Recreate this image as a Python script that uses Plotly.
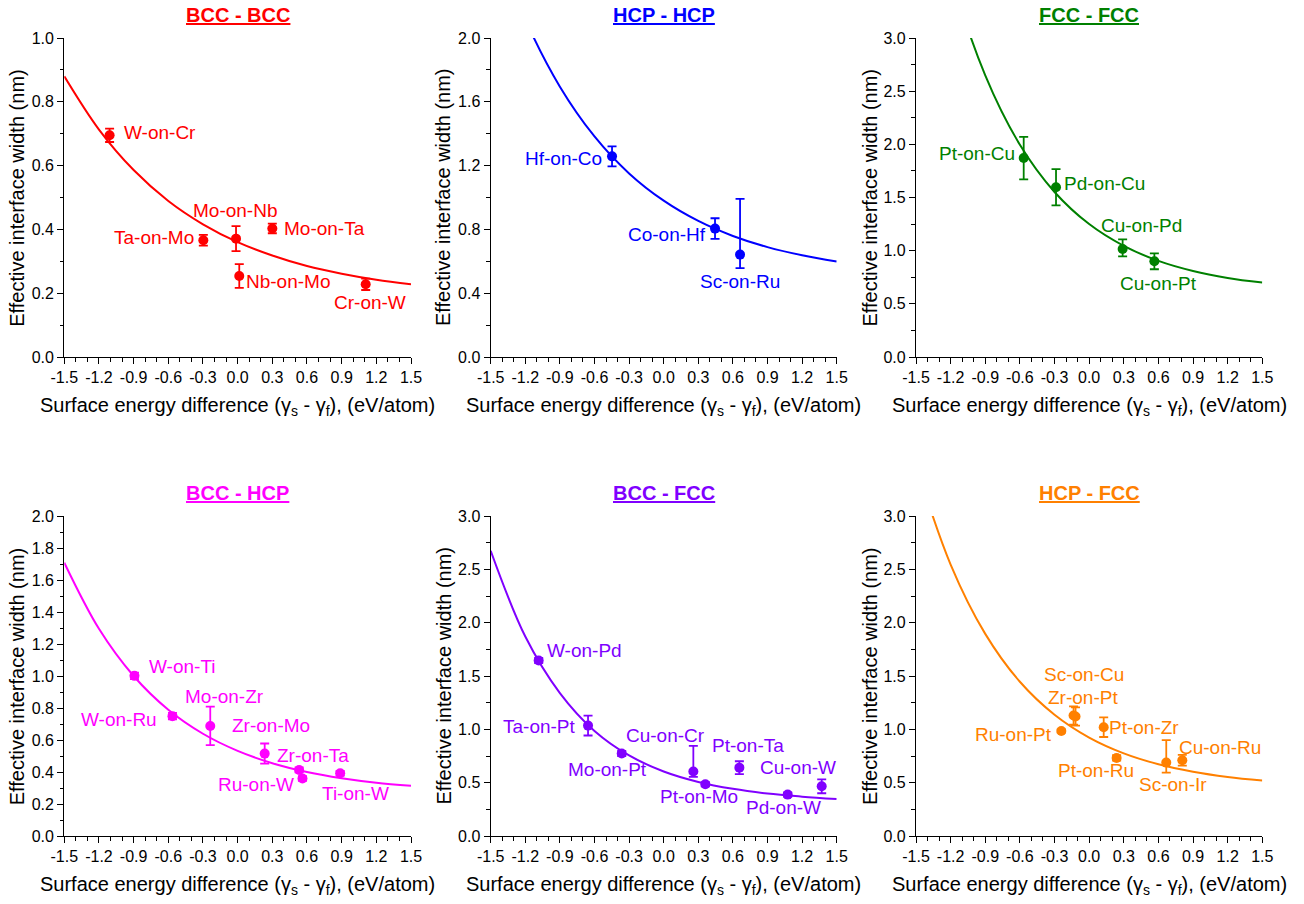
import plotly.graph_objects as go

FONT = "Liberation Sans, Arial, sans-serif"

# Shared x grid for the fitted exponential-decay curves (eV/atom)
fit_x = [-1.5, -1.2, -0.9, -0.6, -0.3, 0.0, 0.3, 0.6, 0.9, 1.2, 1.5]

# x-axis ticks
x_tickvals = [-1.5, -1.2, -0.9, -0.6, -0.3, 0.0, 0.3, 0.6, 0.9, 1.2, 1.5]
x_ticktext = ["-1.5", "-1.2", "-0.9", "-0.6", "-0.3", "0.0", "0.3", "0.6", "0.9", "1.2", "1.5"]

# ---- BCC - BCC ----
bb_labels = ["W-on-Cr", "Ta-on-Mo", "Mo-on-Nb", "Nb-on-Mo", "Mo-on-Ta", "Cr-on-W"]
bb_x = [-1.108, -0.297, -0.014, 0.014, 0.300, 1.108]
bb_y = [0.695, 0.366, 0.371, 0.254, 0.403, 0.228]
bb_err_hi = [0.021, 0.017, 0.039, 0.037, 0.015, 0.018]
bb_err_lo = [0.021, 0.017, 0.039, 0.037, 0.015, 0.018]
bb_fit = [0.880, 0.713, 0.586, 0.489, 0.416, 0.360, 0.318, 0.285, 0.261, 0.242, 0.228]
bb_yticks = [0.0, 0.2, 0.4, 0.6, 0.8, 1.0]

# ---- HCP - HCP ----
hh_labels = ["Hf-on-Co", "Co-on-Hf", "Sc-on-Ru"]
hh_x = [-0.448, 0.445, 0.662]
hh_y = [1.258, 0.805, 0.642]
hh_err_hi = [0.063, 0.065, 0.350]
hh_err_lo = [0.063, 0.065, 0.085]
hh_fit = [2.686, 2.117, 1.695, 1.383, 1.151, 0.980, 0.853, 0.759, 0.689, 0.638, 0.599]
hh_yticks = [0.0, 0.4, 0.8, 1.2, 1.6, 2.0]

# ---- FCC - FCC ----
ff_labels = ["Pt-on-Cu", "Pd-on-Cu", "Cu-on-Pd", "Cu-on-Pt"]
ff_x = [-0.567, -0.287, 0.290, 0.565]
ff_y = [1.871, 1.596, 1.016, 0.900]
ff_err_hi = [0.200, 0.170, 0.090, 0.075]
ff_err_lo = [0.200, 0.170, 0.070, 0.075]
ff_fit = [5.010, 3.610, 2.648, 1.996, 1.552, 1.250, 1.045, 0.904, 0.809, 0.744, 0.700]
ff_yticks = [0.0, 0.5, 1.0, 1.5, 2.0, 2.5, 3.0]

# ---- BCC - HCP ----
bh_labels = ["W-on-Ti", "W-on-Ru", "Mo-on-Zr", "Zr-on-Mo", "Zr-on-Ta", "Ru-on-W", "Ti-on-W"]
bh_x = [-0.893, -0.564, -0.237, 0.234, 0.532, 0.561, 0.887]
bh_y = [1.001, 0.749, 0.688, 0.515, 0.413, 0.359, 0.392]
bh_err_hi = [0.020, 0.020, 0.120, 0.063, 0.015, 0.015, 0.015]
bh_err_lo = [0.020, 0.020, 0.120, 0.063, 0.015, 0.015, 0.015]
bh_fit = [1.708, 1.295, 1.000, 0.789, 0.639, 0.532, 0.455, 0.400, 0.361, 0.333, 0.314]
bh_yticks = [0.0, 0.2, 0.4, 0.6, 0.8, 1.0, 1.2, 1.4, 1.6, 1.8, 2.0]

# ---- BCC - FCC ----
bf_labels = ["W-on-Pd", "Ta-on-Pt", "Mo-on-Pt", "Cu-on-Cr", "Pt-on-Mo", "Pt-on-Ta", "Pd-on-W", "Cu-on-W"]
bf_x = [-1.084, -0.656, -0.364, 0.257, 0.361, 0.656, 1.075, 1.370]
bf_y = [1.645, 1.035, 0.773, 0.604, 0.485, 0.641, 0.388, 0.466]
bf_err_hi = [0.025, 0.093, 0.025, 0.240, 0.020, 0.060, 0.020, 0.065]
bf_err_lo = [0.025, 0.093, 0.025, 0.050, 0.020, 0.060, 0.020, 0.065]
bf_fit = [2.674, 1.870, 1.340, 0.985, 0.755, 0.605, 0.507, 0.442, 0.398, 0.369, 0.346]
bf_yticks = [0.0, 0.5, 1.0, 1.5, 2.0, 2.5, 3.0]

# ---- HCP - FCC ----
hf_labels = ["Ru-on-Pt", "Sc-on-Cu", "Zr-on-Pt", "Pt-on-Zr", "Pt-on-Ru", "Sc-on-Ir", "Cu-on-Ru"]
hf_x = [-0.241, -0.135, -0.118, 0.126, 0.238, 0.668, 0.807]
hf_y = [0.985, 1.130, 1.120, 1.020, 0.732, 0.688, 0.710]
hf_err_hi = [0.015, 0.085, 0.085, 0.092, 0.025, 0.210, 0.050]
hf_err_lo = [0.015, 0.085, 0.085, 0.092, 0.025, 0.094, 0.050]
hf_fit = [3.480, 2.545, 1.895, 1.446, 1.137, 0.923, 0.775, 0.673, 0.603, 0.554, 0.520]
hf_yticks = [0.0, 0.5, 1.0, 1.5, 2.0, 2.5, 3.0]

# Label offsets from each point, in pixels (dx right, dy up)
label_offsets = {
    "BCC - BCC": [(50.7, 2.3), (-49.3, 2.7), (-1, 27.7), (49, -6), (51.7, 0), (4.3, -18.3)],
    "HCP - HCP": [(-48.7, -2.3), (-48.3, -6), (0, -27.3)],
    "FCC - FCC": [(-46.7, 4.3), (48.7, 3.7), (19.3, 23.7), (3.7, -21.7)],
    "BCC - HCP": [(47.7, 9), (-53.3, -3.3), (14.3, 29.7), (6.7, 28.3), (14.3, 14.7), (-46.7, -5.7), (15, -20.3)],
    "BCC - FCC": [(46.3, 9.7), (-48.3, -0.7), (-14.3, -16), (-28.3, 36.3), (-6, -12.7), (8.3, 22.3), (-4.3, -13.3), (-23.3, 18.7)],
    "HCP - FCC": [(-47.7, -3.3), (10.7, 40.7), (7.3, 19), (40.7, 0), (-20.7, -13), (7, -21.7), (38, 12.3)],
}

W, H = 1304, 904
col_px = [(64.3, 411.0), (490.7, 836.7), (916.0, 1262.3)]
row_px = [(38.0, 357.0), (516.0, 836.0)]
ytitle_px = [17.3, 443.5, 870.0]

panels = [
    dict(title="BCC - BCC", color="#FF0000", ymax=1.0, ydt=0.1, yticks=bb_yticks,
         labels=bb_labels, x=bb_x, y=bb_y, hi=bb_err_hi, lo=bb_err_lo, fit=bb_fit),
    dict(title="HCP - HCP", color="#0000FF", ymax=2.0, ydt=0.2, yticks=hh_yticks,
         labels=hh_labels, x=hh_x, y=hh_y, hi=hh_err_hi, lo=hh_err_lo, fit=hh_fit),
    dict(title="FCC - FCC", color="#008000", ymax=3.0, ydt=0.25, yticks=ff_yticks,
         labels=ff_labels, x=ff_x, y=ff_y, hi=ff_err_hi, lo=ff_err_lo, fit=ff_fit),
    dict(title="BCC - HCP", color="#FF00FF", ymax=2.0, ydt=0.1, yticks=bh_yticks,
         labels=bh_labels, x=bh_x, y=bh_y, hi=bh_err_hi, lo=bh_err_lo, fit=bh_fit),
    dict(title="BCC - FCC", color="#8000FF", ymax=3.0, ydt=0.25, yticks=bf_yticks,
         labels=bf_labels, x=bf_x, y=bf_y, hi=bf_err_hi, lo=bf_err_lo, fit=bf_fit),
    dict(title="HCP - FCC", color="#FF8000", ymax=3.0, ydt=0.25, yticks=hf_yticks,
         labels=hf_labels, x=hf_x, y=hf_y, hi=hf_err_hi, lo=hf_err_lo, fit=hf_fit),
]

X_TITLE = "Surface energy difference (\u03b3<sub>s</sub> - \u03b3<sub>f</sub>), (eV/atom)"
Y_TITLE = "Effective interface width (nm)"

fig = go.Figure()
annotations = []
layout_axes = {}

for i, p in enumerate(panels):
    r, c = divmod(i, 3)
    n = i + 1
    xa = "x" if n == 1 else f"x{n}"
    ya = "y" if n == 1 else f"y{n}"
    x0, x1 = col_px[c]
    top, bot = row_px[r]
    xdom = [x0 / W, x1 / W]
    ydom = [1 - bot / H, 1 - top / H]
    col = p["color"]

    fig.add_trace(go.Scatter(
        x=fit_x, y=p["fit"], mode="lines", xaxis=xa, yaxis=ya,
        line=dict(color=col, width=2, shape="spline", smoothing=1.0),
        hoverinfo="skip", showlegend=False,
    ))
    fig.add_trace(go.Scatter(
        x=p["x"], y=p["y"], mode="markers", xaxis=xa, yaxis=ya,
        marker=dict(color=col, size=10, line=dict(width=0)),
        error_y=dict(type="data", symmetric=False, array=p["hi"], arrayminus=p["lo"],
                     color=col, thickness=1.8, width=4.5),
        text=p["labels"], showlegend=False,
    ))

    common = dict(
        showline=True, linecolor="black", linewidth=1.3, mirror=False, automargin=False,
        showgrid=False, zeroline=False, ticks="outside", ticklen=6, tickwidth=1.3,
        tickcolor="black", tickfont=dict(family=FONT, size=16, color="black"),
    )
    layout_axes["xaxis" if n == 1 else f"xaxis{n}"] = dict(
        domain=xdom, anchor=ya, range=[-1.5, 1.5], tickmode="array",
        tickvals=x_tickvals, ticktext=x_ticktext,
        minor=dict(dtick=0.1, tick0=-1.5, ticks="outside", ticklen=3.5, tickwidth=1.2,
                   tickcolor="black", showgrid=False),
        **common,
    )
    layout_axes["yaxis" if n == 1 else f"yaxis{n}"] = dict(
        domain=ydom, anchor=xa, range=[0, p["ymax"]], tickmode="array",
        tickvals=p["yticks"], ticktext=[f"{v:.1f}" for v in p["yticks"]],
        minor=dict(dtick=p["ydt"], tick0=0, ticks="outside", ticklen=3.5, tickwidth=1.2,
                   tickcolor="black", showgrid=False),
        **common,
    )

    # point labels
    for lab, px, py, (dx, dy) in zip(p["labels"], p["x"], p["y"], label_offsets[p["title"]]):
        annotations.append(dict(
            x=px, y=py, xref=xa, yref=ya, text=lab, showarrow=False,
            xshift=dx, yshift=dy, xanchor="center", yanchor="middle",
            font=dict(family=FONT, size=19, color=col),
        ))

    # panel title
    annotations.append(dict(
        x=(x0 + x1) / 2 / W, y=1 - (top - 23) / H, xref="paper", yref="paper",
        text=f"<b><u>{p['title']}</u></b>", showarrow=False,
        xanchor="center", yanchor="middle",
        font=dict(family=FONT, size=20, color=col),
    ))
    # axis titles
    annotations.append(dict(
        x=(x0 + x1) / 2 / W, y=1 - (bot + 49.5) / H, xref="paper", yref="paper",
        text=X_TITLE, showarrow=False, xanchor="center", yanchor="middle",
        font=dict(family=FONT, size=20, color="black"),
    ))
    annotations.append(dict(
        x=ytitle_px[c] / W, y=1 - (top + bot) / 2 / H, xref="paper", yref="paper",
        text=Y_TITLE, showarrow=False, textangle=-90, xanchor="center", yanchor="middle",
        font=dict(family=FONT, size=20, color="black"),
    ))

fig.update_layout(
    template="none",
    width=W, height=H, margin=dict(l=0, r=0, t=0, b=0, autoexpand=False),
    paper_bgcolor="white", plot_bgcolor="white",
    showlegend=False, annotations=annotations,
    font=dict(family=FONT),
    **layout_axes,
)

fig.write_html("out.html", config={"displayModeBar": False})
